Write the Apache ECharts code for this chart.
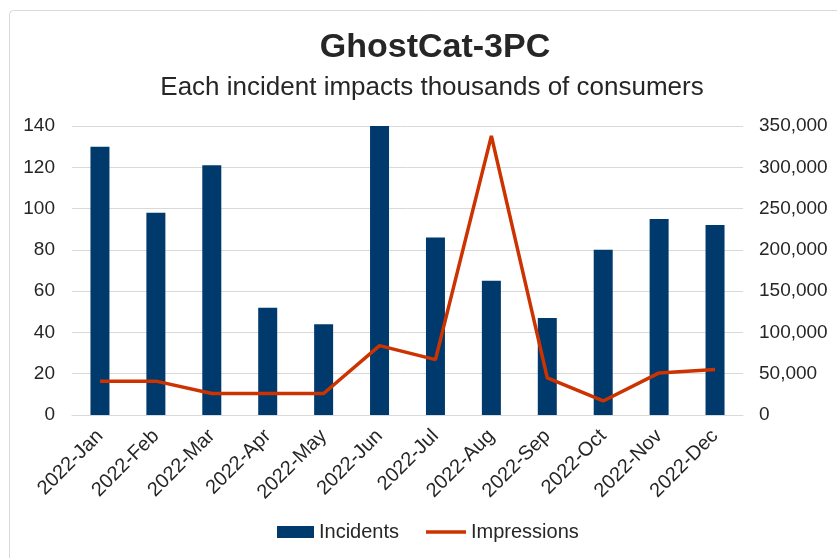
<!DOCTYPE html>
<html>
<head>
<meta charset="utf-8">
<script src="https://cdn.jsdelivr.net/npm/echarts@6/dist/echarts.min.js"></script>
<style>
  html, body { margin: 0; padding: 0; background: #ffffff; }
  #chart { width: 837px; height: 558px; }
</style>
</head>
<body>
<div id="chart"></div>
<script>
// Monthly categories
const months = ['2022-Jan', '2022-Feb', '2022-Mar', '2022-Apr', '2022-May', '2022-Jun',
                '2022-Jul', '2022-Aug', '2022-Sep', '2022-Oct', '2022-Nov', '2022-Dec'];
// Incident counts per month (left axis)
const incidents = [130, 98, 121, 52, 44, 140, 86, 65, 47, 80, 95, 92];
// Consumer impressions per month (right axis)
const impressions = [41000, 41000, 26000, 26000, 26000, 84000, 67000, 338000, 45000, 17000, 51000, 55000];

const chartTitle = 'GhostCat-3PC';
const chartSubtitle = 'Each incident impacts thousands of consumers';

const FONT = "'Liberation Sans Narrow', 'Arial Narrow', 'Liberation Sans', Arial, sans-serif";
const withCommas = v => String(v).replace(/\B(?=(\d{3})+(?!\d))/g, ',');

const chart = echarts.init(document.getElementById('chart'), null, { renderer: 'canvas' });

const legendText = { fontFamily: FONT, fontSize: 20, color: '#262626' };

chart.setOption({
  backgroundColor: '#ffffff',
  animation: false,
  textStyle: { fontFamily: FONT },
  graphic: [{
    type: 'rect',
    left: 7, top: 8,
    shape: { width: 860, height: 580, r: 4 },
    style: { fill: 'none', stroke: '#d9d9d9', lineWidth: 1 },
    silent: true
  }],
  title: [
    {
      text: chartTitle,
      left: 430, top: 26, textAlign: 'center',
      textStyle: { fontFamily: FONT, fontSize: 34, fontWeight: 'bold', color: '#262626' }
    },
    {
      text: chartSubtitle,
      left: 427, top: 70, textAlign: 'center',
      textStyle: { fontFamily: FONT, fontSize: 26, fontWeight: 'normal', color: '#262626' }
    }
  ],
  legend: [
    {
      left: 277, top: 522, padding: 0,
      itemWidth: 37, itemHeight: 12, itemGap: 10,
      textStyle: legendText,
      data: [{ name: 'Incidents', icon: 'rect' }]
    },
    {
      left: 426, top: 522, padding: 0,
      itemWidth: 40, itemHeight: 3.5, itemGap: 10,
      textStyle: legendText,
      data: [{ name: 'Impressions', icon: 'rect' }]
    }
  ],
  grid: { left: 72, right: 94, top: 126, bottom: 143, containLabel: false },
  xAxis: {
    type: 'category',
    data: months,
    axisLine: { show: true, lineStyle: { color: '#d9d9d9', width: 1 } },
    axisTick: { show: false },
    axisLabel: {
      rotate: 45,
      margin: 18,
      interval: 0,
      fontFamily: FONT,
      fontSize: 20,
      color: '#262626'
    }
  },
  yAxis: [
    {
      type: 'value',
      min: 0, max: 140, interval: 20,
      axisLine: { show: false },
      axisTick: { show: false },
      splitLine: { lineStyle: { color: '#d9d9d9', width: 1 } },
      axisLabel: { margin: 17, fontFamily: FONT, fontSize: 19, color: '#262626' }
    },
    {
      type: 'value',
      min: 0, max: 350000, interval: 50000,
      position: 'right',
      axisLine: { show: false },
      axisTick: { show: false },
      splitLine: { show: false },
      axisLabel: {
        margin: 16, fontFamily: FONT, fontSize: 19, color: '#262626',
        formatter: v => withCommas(v)
      }
    }
  ],
  series: [
    {
      name: 'Incidents',
      type: 'bar',
      yAxisIndex: 0,
      data: incidents,
      barWidth: 19,
      itemStyle: { color: '#003a6c' }
    },
    {
      name: 'Impressions',
      type: 'line',
      yAxisIndex: 1,
      data: impressions,
      symbol: 'none',
      lineStyle: { color: '#cc3300', width: 3.5 },
      itemStyle: { color: '#cc3300' }
    }
  ]
});
</script>
</body>
</html>
